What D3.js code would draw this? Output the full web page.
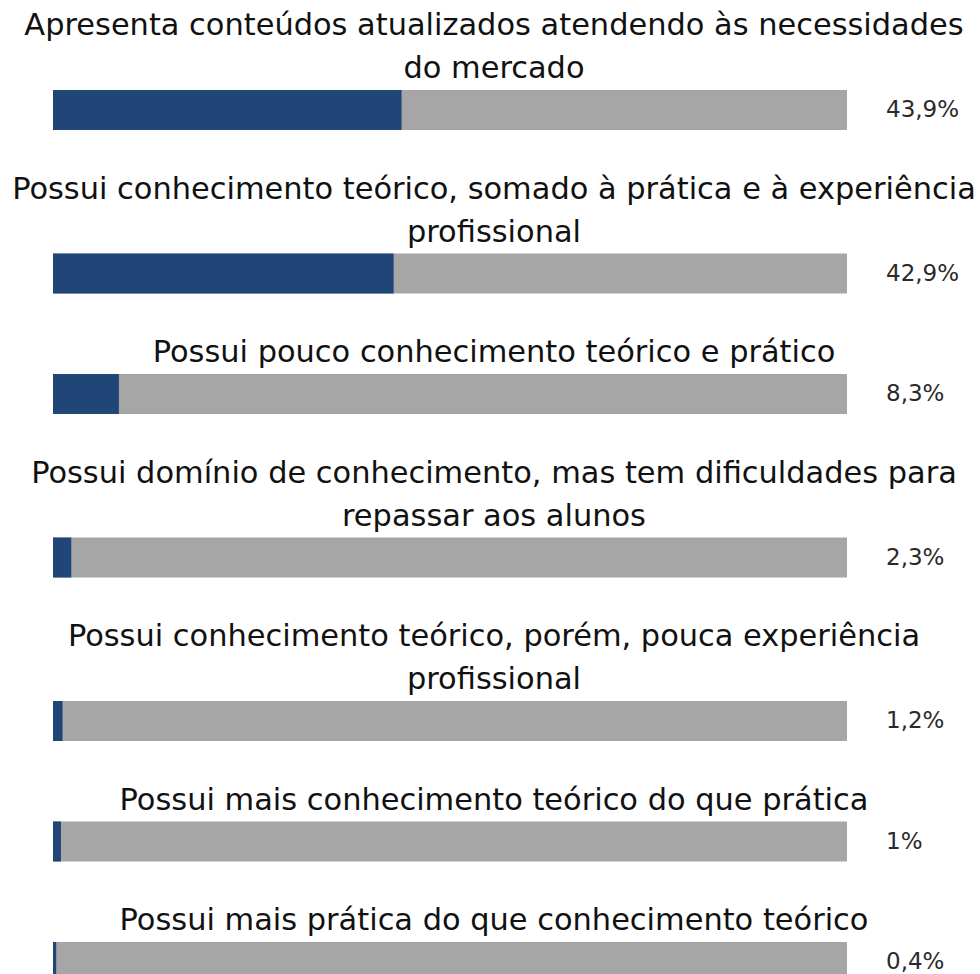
<!DOCTYPE html>
<html>
<head>
<meta charset="utf-8">
<script src="https://cdn.jsdelivr.net/npm/d3@7"></script>
<style>
  html, body { margin: 0; padding: 0; background: #fff; }
  svg { display: block; }
</style>
</head>
<body>
<svg id="chart" width="980" height="974"></svg>
<script>
"use strict";

// categorias (cada uma já quebrada em linhas como no original)
const categories = [
  ["Apresenta conteúdos atualizados atendendo às necessidades", "do mercado"],
  ["Possui conhecimento teórico, somado à prática e à experiência", "profissional"],
  ["Possui pouco conhecimento teórico e prático"],
  ["Possui domínio de conhecimento, mas tem dificuldades para", "repassar aos alunos"],
  ["Possui conhecimento teórico, porém, pouca experiência", "profissional"],
  ["Possui mais conhecimento teórico do que prática"],
  ["Possui mais prática do que conhecimento teórico"]
];

// percentuais de cada categoria
const values = [43.9, 42.9, 8.3, 2.3, 1.2, 1, 0.4];

// rótulos com vírgula decimal
const valueLabels = values.map((v) => String(v).replace(".", ",") + "%");

const blue = "#1f4677";
const gray = "#a6a6a6";
const fontFamily = "'DejaVu Sans', sans-serif";

const svg = d3.select("#chart");

// escala horizontal das barras: 0% ~ 100%
const x = d3.scaleLinear().domain([0, 100]).range([53, 847]);

const titleCenter = 494;
const firstBaseline = 35; // primeira linha do título a partir do topo do bloco
const lineStep = 43;      // distância entre linhas do título
const titleToBar = 12;    // da última linha até a barra
const barH = 40;
const blockGap = 33.5;    // espaço após cada barra

// ajusta o tamanho da fonte para que a linha mais longa caiba em ~964px
const probe = svg.append("text")
  .style("font-family", fontFamily)
  .style("font-size", "28px");
let widest = 0;
categories.forEach((lines) => lines.forEach((l) => {
  probe.text(l);
  widest = Math.max(widest, probe.node().getComputedTextLength());
}));
probe.remove();
const titleSize = 28 * 964 / widest;

// calcula a posição vertical de cada bloco
let cursorY = 0;
const blocks = categories.map((lines, i) => {
  const baselines = lines.map((_, j) => cursorY + firstBaseline + j * lineStep);
  const barY = baselines[baselines.length - 1] + titleToBar;
  cursorY = barY + barH + blockGap;
  return { lines, value: values[i], label: valueLabels[i], baselines, barY };
});

const g = svg.selectAll("g.item")
  .data(blocks)
  .enter()
  .append("g")
  .attr("class", "item");

// título
g.each(function (d) {
  d3.select(this).selectAll("text.title")
    .data(d.lines.map((l, j) => ({ text: l, y: d.baselines[j] })))
    .enter()
    .append("text")
    .attr("class", "title")
    .attr("x", titleCenter)
    .attr("y", (t) => t.y)
    .attr("text-anchor", "middle")
    .style("font-family", fontFamily)
    .style("font-size", titleSize + "px")
    .style("fill", "#111")
    .text((t) => t.text);
});

// fundo cinza (100%)
g.append("rect")
  .attr("x", x(0))
  .attr("y", (d) => d.barY)
  .attr("width", x(100) - x(0))
  .attr("height", barH)
  .style("fill", gray);

// parte azul (valor)
g.append("rect")
  .attr("x", x(0))
  .attr("y", (d) => d.barY)
  .attr("width", (d) => x(d.value) - x(0))
  .attr("height", barH)
  .style("fill", blue);

// rótulo percentual
g.append("text")
  .attr("x", 886)
  .attr("y", (d) => d.barY + barH / 2 + 7)
  .style("font-family", fontFamily)
  .style("font-size", "23px")
  .style("fill", "#2a2a2a")
  .text((d) => d.label);
</script>
</body>
</html>
